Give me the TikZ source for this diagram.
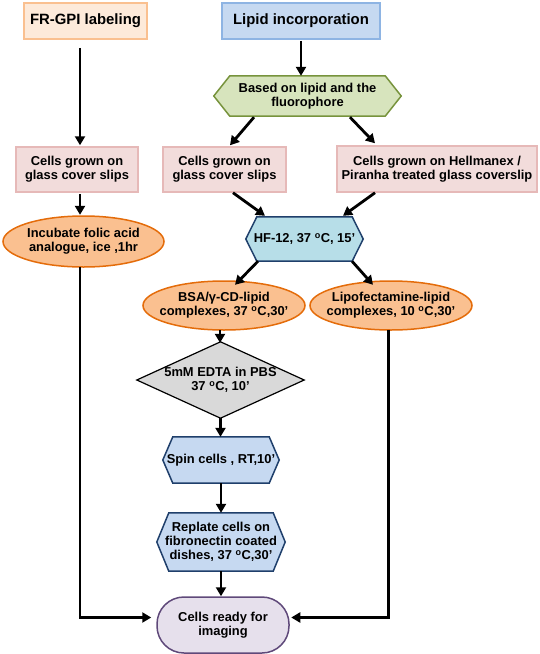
\documentclass[tikz,border=0pt]{standalone}
\usepackage{fontspec}
\setmainfont{Liberation Sans}
\usetikzlibrary{arrows.meta,calc,backgrounds,shapes.geometric}
\definecolor{frfill}{HTML}{FDEADA}
\definecolor{frline}{HTML}{FAC090}
\definecolor{lipfill}{HTML}{C6D9F1}
\definecolor{lipline}{HTML}{8EB4E3}
\definecolor{grfill}{HTML}{D7E4BD}
\definecolor{grline}{HTML}{77933C}
\definecolor{pkfill}{HTML}{F2DCDB}
\definecolor{pkline}{HTML}{E6B9B8}
\definecolor{orfill}{HTML}{FAC090}
\definecolor{orline}{HTML}{E46C0A}
\definecolor{cyfill}{HTML}{B7DEE8}
\definecolor{navy}{HTML}{1F3F6B}
\definecolor{gyfill}{HTML}{D9D9D9}
\definecolor{vifill}{HTML}{E6E0EC}
\definecolor{viline}{HTML}{5F497A}
\newcommand\hexline[3]{%
  \draw[#3] ($(#1.north west)+(#2,0)$) -- ($(#1.north east)+(-#2,0)$) -- (#1.east)
    -- ($(#1.south east)+(-#2,0)$) -- ($(#1.south west)+(#2,0)$) -- (#1.west) -- cycle;}
\begin{document}
\begin{tikzpicture}[x=1pt,y=-1pt,
  base/.style={inner sep=0pt, align=center, font=\fontsize{12.9}{14.3}\selectfont\bfseries},
  title/.style={base, font=\fontsize{14.9}{17}\selectfont\bfseries, line width=1.5pt},
  pinkbox/.style={base, draw=pkline, fill=pkfill, line width=1.5pt},
  orell/.style={draw=orline, fill=orfill, line width=1.5pt},
  arr/.style={line width=2.8pt, -{Triangle[length=9pt,width=10pt]}},
  plain/.style={line width=2.5pt}]
\useasboundingbox (0,0) rectangle (540,654);

% nodes
\node[title, draw=frline, fill=frfill, minimum width=123, minimum height=36] (fr) at (85.5,21) {FR-GPI labeling};
\node[title, draw=lipline, fill=lipfill, minimum width=158, minimum height=36] (lip) at (301,21) {Lipid incorporation};
\node[base, minimum width=187, minimum height=40] (basis) at (307.5,96) {Based on lipid and the\\fluorophore};
\node[pinkbox, minimum width=122, minimum height=45] (c1) at (77,169.5) {Cells grown on\\glass cover slips};
\node[pinkbox, minimum width=123, minimum height=45] (c2) at (224.5,169.5) {Cells grown on\\glass cover slips};
\node[pinkbox, minimum width=200, minimum height=46] (c3) at (437,169) {Cells grown on Hellmanex /\\Piranha treated glass coverslip};
\node[base, minimum width=161, minimum height=51] (inc) at (83.5,241.5) {Incubate folic acid\\analogue, ice ,1hr};
\node[base, minimum width=117, minimum height=44] (hf) at (304.5,239) {HF-12, 37 \textsuperscript{o}C, 15’};
\node[base, minimum width=162, minimum height=49] (bsa) at (224,305.5) {BSA/γ-CD-lipid\\complexes, 37 \textsuperscript{o}C,30’};
\node[base, minimum width=162, minimum height=49] (lipo) at (391,305.5) {Lipofectamine-lipid\\complexes, 10 \textsuperscript{o}C,30’};
\node[base, minimum width=167, minimum height=76] (edta) at (220.5,380) {5mM EDTA in PBS\\37 \textsuperscript{o}C, 10’};
\node[base, minimum width=116, minimum height=46] (spin) at (221,460) {Spin cells , RT,10’};
\node[base, minimum width=128, minimum height=58] (rep) at (221,542) {Replate cells on\\fibronectin coated\\dishes, 37 \textsuperscript{o}C,30’};
\node[base, draw=viline, fill=vifill, line width=1.5pt, rounded corners=27pt, minimum width=132, minimum height=56] (fin) at (223,625) {Cells ready for\\imaging};

% outlines of ellipses, hexagons and diamond
\begin{scope}[on background layer]
  \draw[orell] (inc.center) ellipse [x radius=80.5pt, y radius=25.5pt];
  \draw[orell] (bsa.center) ellipse [x radius=81pt, y radius=24.5pt];
  \draw[orell] (lipo.center) ellipse [x radius=81pt, y radius=24.5pt];
  \hexline{basis}{16}{draw=grline, fill=grfill, line width=1.5pt}
  \hexline{hf}{11}{draw=navy, fill=cyfill, line width=1.5pt}
  \hexline{spin}{10}{draw=navy, fill=lipfill, line width=1.5pt}
  \hexline{rep}{12}{draw=navy, fill=lipfill, line width=1.5pt}
  \draw[draw=black, fill=gyfill, line width=1.2pt] (edta.north) -- (edta.east) -- (edta.south) -- (edta.west) -- cycle;
\end{scope}

% connectors
\draw[arr] ($(fr.south)+(-5.5,8)$) -- ($(c1.north)+(3,-1)$);
\draw[arr] ($(lip.south)+(0,1)$) -- (lip.south |- basis.north);
\draw[arr] ($(basis.south)+(-53.5,1)$) -- ($(c2.north)+(5.5,-1)$);
\draw[arr] ($(basis.south)+(42.5,1)$) -- ($(c3.north)+(-62,-2)$);
\draw[arr] ($(c1.south)+(3,1)$) -- ($(inc.north)+(-3.5,-1)$);
\draw[arr] ($(c2.south)+(8.5,0)$) -- ($(hf.north)+(-39.5,-1)$);
\draw[arr] ($(c3.south)+(-62,0)$) -- ($(hf.north)+(38.5,-1)$);
\draw[arr] ($(hf.south)+(-46.5,0)$) -- ($(bsa.north)+(11,4)$);
\draw[arr] ($(hf.south)+(47.5,0)$) -- ($(lipo.north)+(-18,4)$);
\draw[arr] ($(bsa.south)+(-4,0)$) -- ($(edta.north)+(-0.5,1)$);
\draw[arr] (edta.south) -- (edta.south |- spin.north);
\draw[arr] (spin.south) -- (rep.north);
\draw[arr] (rep.south) -- (rep.south |- fin.north);
\draw[arr] ($(inc.south)+(-3.5,0)$) |- ($(fin.west)+(-5,-7.5)$);
\draw[arr] ($(lipo.south)+(-2.5,0)$) |- ($(fin.east)+(1.5,-7.5)$);
\end{tikzpicture}
\end{document}
